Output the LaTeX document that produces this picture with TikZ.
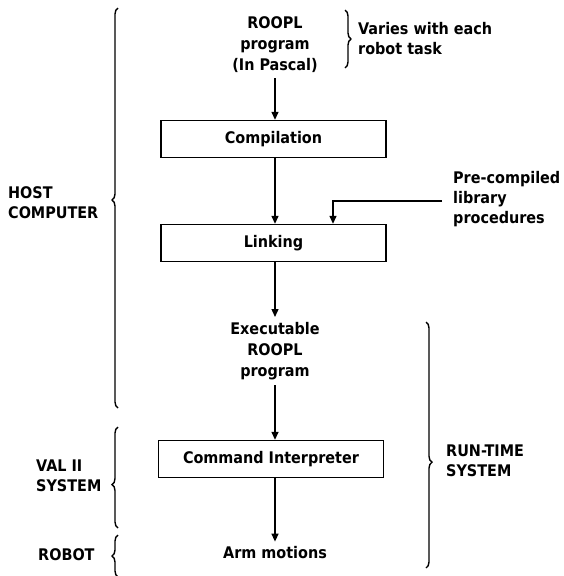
\documentclass[tikz,border=0pt]{standalone}
\usepackage{fontspec}
\setmainfont{DejaVu Sans Condensed}
\usepackage{tikz}
\usetikzlibrary{arrows.meta,calc,decorations.pathreplacing}

\begin{document}
\begin{tikzpicture}[
    x=1pt,
    y=-1pt,
    >={Triangle[width=7pt,length=8pt]},
    flow/.style={
        ->,
        draw=black,
        line width=1.4pt
    },
    stage/.style={
        draw=black,
        line width=1.4pt,
        minimum width=225pt,
        minimum height=37pt,
        inner sep=2pt,
        font=\bfseries\fontsize{16}{19}\selectfont
    },
    label/.style={
        align=center,
        inner sep=5pt,
        font=\bfseries\fontsize{16}{21}\selectfont
    },
    note/.style={
        anchor=west,
        align=left,
        inner sep=0pt,
        font=\bfseries\fontsize{16}{20}\selectfont
    },
    grp/.style={
        decorate,
        decoration={brace,amplitude=6pt,#1},
        line width=1.4pt
    },
    grp/.default={aspect=0.5}
]

\useasboundingbox (0,0) rectangle (563,576);

% =====================================================
% Main flow
% =====================================================

\node[label] (Src) at (275,45) {ROOPL\\program\\(In Pascal)};

\node[stage] (Comp) at (273.5,139) {Compilation};
\node[stage] (Link) at (273.5,243) {Linking};

\node[label] (Exec) at (275,351) {Executable\\ROOPL\\program};

\node[stage] (Cmd) at (271,459) {Command Interpreter};

\node[label] (Arm) at (275,553) {Arm motions};

% =====================================================
% Side notes
% =====================================================

\node[note] (Varies) at (358,39) {Varies with each\\robot task};
\node[note] (Lib) at (453,199) {Pre-compiled\\library\\procedures};

\node[note] (Host) at (8,203) {HOST\\COMPUTER};
\node[note] (Val) at (36,476) {VAL II\\SYSTEM};
\node[note] (Robot) at (38,555) {ROBOT};
\node[note] (Run) at (446,461) {RUN-TIME\\SYSTEM};

\coordinate (LibStart) at (442,201);
\coordinate (LibBend) at (333,201);

% =====================================================
% Arrows
% =====================================================

\draw[flow] (Src.south) -- (Src.south |- Comp.north);
\draw[flow] (Src.south |- Comp.south) -- (Src.south |- Link.north);
\draw[flow] (Src.south |- Link.south) -- (Exec.north);
\draw[flow] (Exec.south) -- (Exec.south |- Cmd.north);
\draw[flow] (Exec.south |- Cmd.south) -- (Arm.north);

\draw[flow] (LibStart) -- (LibBend) -- (LibBend |- Link.north);

% =====================================================
% Braces
% =====================================================

\draw[grp={aspect=0.5}] (345,10) -- (345,68);

\draw[grp={aspect=0.52}] (118,408) -- (118,8);
\draw[grp={aspect=0.43}] (118,528) -- (118,427);
\draw[grp={aspect=0.5}] (118,577) -- (118,535);

\draw[grp={aspect=0.57}] (426,322) -- (426,568);

\end{tikzpicture}
\end{document}
